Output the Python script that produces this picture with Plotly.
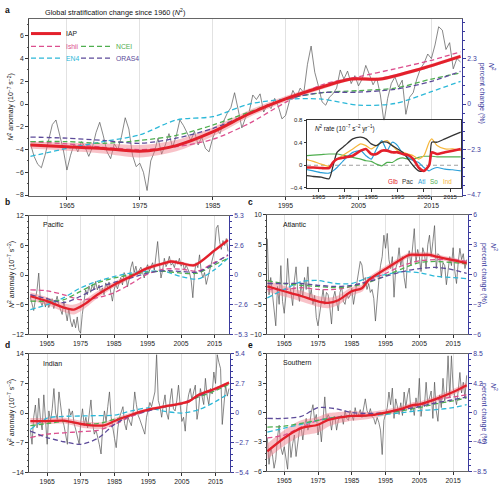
import plotly.graph_objects as go

# ---------------- categories / ticks ----------------
HALF_YEARS = [1960 + 0.5 * i for i in range(119)]
YR5 = [1960, 1965, 1970, 1975, 1980, 1985, 1990, 1995, 2000, 2005, 2010, 2015, 2019]
XTICKS = [1965, 1975, 1985, 1995, 2005, 2015]

# ---------------- panel a: global ----------------
glb_raw = [
    -3.5, -4.6, -5.3, -5.6, -4.5, -3.0, -1.8, -1.4, -2.6, -4.0, -5.8, -4.5, -3.5, -4.2, -3.3, -3.8, -4.6, -3.8, -2.5, -1.6,
    -2.8, -4.2, -4.8, -3.5, -4.0, -2.8, -1.2, -2.2, -4.5, -5.5, -5.2, -6.0, -7.6, -5.0, -4.2, -3.0, -4.4, -3.6, -2.6, -3.8,
    -2.8, -1.4, -1.9, -2.6, -3.2, -2.4, -3.6, -2.9, -3.9, -4.2, -3.0, -2.2, -2.6, -1.5, -0.8, -0.3, 1.0, -0.5, -2.1, -1.2,
    -0.7, 0.8, 0.4, 0.9, -0.7, 0.0, -0.4, 0.5, -0.2, -1.3, -1.0, 0.2, 1.2, 0.6, 1.4, 1.0, 3.5, 5.1, 2.8, 1.6,
    0.2, -0.1, 0.6, 0.9, 1.4, 3.0, 2.2, 2.9, 1.8, 2.5, 1.6, 2.2, 3.4, 2.6, 1.7, 2.3, 0.8, -1.6, 0.5, 1.8,
    2.4, 1.5, 2.1, -0.9, 0.6, 1.0, 2.2, 3.1, 3.6, 4.4, 4.0, 5.2, 6.8, 6.5, 4.8, 5.4, 3.1, 4.0, 3.7]
glb_iap_years = [1960, 1965, 1970, 1975, 1980, 1985, 1990, 1995, 2000, 2004, 2008, 2013, 2019]
glb_iap = [-3.6, -3.75, -3.9, -4.15, -3.65, -2.45, -0.85, 0.45, 1.5, 2.2, 2.2, 3.0, 4.2]
glb_unc = [0.3, 0.35, 0.45, 0.55, 0.5, 0.4, 0.3, 0.25, 0.2, 0.15, 0.15, 0.15, 0.15]
glb_ishii = [-3.3, -3.5, -3.8, -4.0, -3.75, -3.1, -1.7, 0.15, 1.7, 2.4, 3.1, 3.85, 4.6]
glb_en4 = [-4.6, -3.9, -3.3, -2.7, -1.4, -1.1, 0.0, 0.43, 0.43, -0.1, 0.05, 1.1, 2.0]
glb_ncei = [-3.3, -3.3, -3.45, -3.2, -2.75, -1.85, -0.7, 0.43, 1.0, 1.18, 1.4, 2.2, 2.74]
glb_oras4 = [-2.9, -3.0, -3.2, -3.45, -3.0, -2.15, -0.85, 0.43, 1.0, 1.05, 1.3, 2.0, 2.88]

# ---------------- panel b: Pacific ----------------
pac_raw = [
    -4.5, -6.0, -7.2, -5.0, -3.0, 0.4, -5.3, -6.2, -5.0, -6.5, -4.6, -6.6, -5.5, -4.8, -6.8, -5.2, -4.3, -6.0, -7.0, -8.0,
    -5.3, -7.5, -9.3, -6.8, -9.3, -10.5, -9.0, -10.7, -8.5, -11.2, -11.8, -8.0, -5.5, -3.0, -4.0, -2.2, -3.5, -1.9, -3.0, -1.3,
    -3.0, -2.0, -3.8, -2.6, -4.0, -1.6, -2.5, -1.4, -3.5, -5.3, -3.0, -1.8, -2.8, -1.5, -0.5, -2.0, 0.5, -0.2, -2.4, -0.8,
    1.5, 2.7, 0.5, 1.8, 0.1, 1.0, 1.6, 0.5, -0.6, 1.2, 2.1, 0.8, 1.5, 2.5, 1.0, 4.4, 6.8, 2.5, -0.6, 1.0,
    3.4, 1.7, 2.5, 3.8, 2.0, 2.4, 1.5, 3.0, 2.2, 3.4, 1.8, 2.6, 1.0, 2.0, 1.2, 0.5, -1.0, -4.6, 0.5, 2.5,
    1.5, 4.1, 0.8, -0.6, 0.5, -1.9, -0.5, 1.0, 2.5, 3.8, 5.0, 9.5, 10.1, 6.8, 5.2, 7.0, 6.0, 7.4, 4.8]
pac_iap_years = [1960, 1965, 1970, 1973, 1976, 1980, 1985, 1990, 1995, 2000, 2002, 2005, 2009, 2015, 2019]
pac_iap = [-4.3, -5.3, -6.6, -7.0, -6.0, -4.0, -1.95, -0.27, 1.4, 2.4, 2.75, 2.4, 2.0, 5.0, 7.1]
pac_unc = [0.8, 0.8, 0.9, 1.0, 0.9, 0.7, 0.6, 0.5, 0.4, 0.35, 0.35, 0.35, 0.35, 0.35, 0.35]
pac_ishii = [-3.0, -3.2, -4.0, -5.0, -4.6, -3.6, -1.8, 0.2, 1.2, 1.2, 0.8, 2.6, 4.0]
pac_en4 = [-7.0, -6.0, -4.6, -2.6, -1.3, -0.3, 0.4, 0.74, 0.74, -0.3, -0.8, 1.1, 3.4]
pac_ncei = [-5.3, -5.3, -5.0, -3.3, -1.6, -0.6, 0.07, 0.6, 0.74, 0.4, 0.4, 2.1, 3.4]
pac_oras4 = [-4.0, -4.8, -5.6, -4.3, -2.6, -1.5, -0.6, 0.4, 0.9, 0.74, 0.6, 2.4, 4.1]

# ---------------- panel c: Atlantic ----------------
atl_raw = [
    6.0, -3.4, -0.5, -3.0, -6.1, -8.6, -2.0, -5.0, 1.5, -4.5, -6.5, -3.5, 2.7, -1.5, -3.0, -5.2, -1.0, 1.3, -2.8, -4.5,
    -1.5, -3.8, -0.5, -2.5, 1.3, -4.0, -2.5, -5.0, -3.5, -7.2, -8.6, -6.0, -4.5, -2.5, -5.0, -3.0, -3.4, -5.5, -8.3, -4.0,
    -2.8, -4.5, -6.1, -3.0, -2.0, -4.5, -5.0, -3.2, -4.0, -3.5, -2.3, -5.0, -3.0, -1.0, 1.0, 2.2, 1.6, -1.0, -0.5, -2.5,
    -1.5, -3.0, -2.5, -4.0, -7.8, -3.5, -1.0, 1.5, 3.0, 6.6, 4.4, 6.9, 2.5, 1.0, 3.0, -3.8, 1.0, 2.0, 4.5, 1.5,
    3.0, -0.5, -2.3, 2.5, 4.0, 1.5, 5.0, 7.7, 2.0, 4.2, 3.0, 0.5, 4.5, 3.5, 1.0, 5.0, 6.6, 3.0, 5.5, 8.2,
    1.0, 3.5, 3.2, -0.5, 2.0, 1.5, -1.7, 0.5, 3.0, 1.5, 4.5, 0.5, -1.5, 2.0, 4.4, 2.5, 3.5, 1.0, 2.5]
atl_iap_years = [1960, 1965, 1970, 1975, 1978, 1981, 1985, 1988, 1990, 1995, 2000, 2002, 2005, 2008, 2010, 2015, 2019]
atl_iap = [-2.0, -2.8, -3.6, -4.5, -4.75, -4.3, -2.8, -2.3, -0.9, 0.94, 2.7, 3.3, 3.3, 3.3, 3.0, 2.4, 1.9]
atl_unc = [0.9, 0.9, 0.9, 0.9, 0.9, 0.8, 0.7, 0.6, 0.5, 0.5, 0.45, 0.4, 0.4, 0.4, 0.4, 0.4, 0.4]
atl_ishii = [-2.5, -2.5, -2.2, -2.5, -2.5, -2.0, -1.0, 0.2, 1.5, 2.3, 2.5, 2.5, 2.2]
atl_en4 = [-3.9, -2.5, -1.2, -1.0, -1.5, -1.5, -0.5, 0.0, 0.5, 0.3, -0.3, -0.5, -0.7]
atl_ncei = [-1.0, -1.5, -1.8, -2.0, -2.2, -2.0, -1.3, -0.2, 1.0, 2.0, 2.2, 2.0, 1.8]
atl_oras4 = [-1.5, -1.5, -1.5, -1.8, -2.0, -1.8, -1.2, -0.3, 0.5, 1.0, 1.2, 0.8, 0.2]

# ---------------- panel d: Indian ----------------
ind_raw = [
    -4.0, -7.4, -1.0, 1.9, -3.5, 3.5, -1.5, -4.0, 4.3, -2.5, -7.4, 0.5, -2.0, 1.0, 5.8, 0.0, -1.5, 5.0, 2.0, -1.5,
    -3.0, -5.8, -7.4, 1.0, -0.5, 0.5, -2.5, -4.0, -5.5, -7.4, -2.0, 1.0, -3.0, -1.0, -3.5, -0.5, 3.1, -2.5, -5.0, -4.0,
    -5.5, -7.5, -9.7, -3.0, 0.5, -2.0, 1.5, 5.0, -1.0, -4.0, -6.0, -8.2, -3.5, -1.0, 0.5, 1.5, -2.5, -4.0, -1.0, -2.0,
    -3.0, 0.0, 5.0, 2.0, -0.5, -1.5, -2.8, -3.5, -5.0, -1.0, 0.5, 2.5, 1.5, 3.0, 5.0, 13.8, 3.0, 1.5, -1.0, 2.0,
    4.3, 0.0, -1.5, 3.0, 5.8, 1.0, 0.5, 3.0, 6.6, 2.0, -2.0, -1.0, -4.3, 1.5, 4.3, 5.8, 3.0, 5.0, 6.6, -1.5,
    1.0, 5.8, 3.5, 2.0, 8.2, 4.0, 2.0, 5.8, 4.5, 9.7, 7.0, 13.8, 12.0, 10.5, -2.7, 3.0, 6.6, 4.0, 5.8]
ind_iap_years = [1960, 1965, 1970, 1975, 1978, 1982, 1985, 1990, 1995, 2000, 2005, 2007, 2010, 2015, 2019]
ind_iap = [-1.9, -1.9, -1.8, -2.6, -2.9, -2.9, -1.9, -0.4, 0.8, 1.55, 2.3, 2.7, 4.3, 5.8, 7.2]
ind_unc = [0.7, 0.7, 0.7, 0.8, 0.8, 0.8, 0.7, 0.5, 0.4, 0.35, 0.35, 0.35, 0.35, 0.35, 0.35]
ind_ishii = [-5.8, -5.0, -4.7, -4.4, -4.1, -2.7, -0.8, 0.5, 1.5, 2.3, 4.0, 5.5, 7.0]
ind_en4 = [-3.9, -1.2, -0.8, -0.7, -0.6, -0.5, 0.5, 1.2, 0.4, 0.0, 0.8, 2.7, 4.7]
ind_ncei = [-3.0, -2.5, -2.0, -2.5, -2.5, -1.5, -0.5, 0.8, 1.5, 2.2, 3.8, 5.3, 6.8]
ind_oras4 = [-4.3, -5.8, -6.8, -7.4, -6.0, -2.7, -0.5, 0.5, 1.5, 2.2, 4.0, 5.8, 7.2]

# ---------------- panel e: Southern ----------------
so_raw = [
    -2.6, -5.3, -3.6, -4.3, -5.7, -4.8, -2.5, -1.3, -3.6, -4.3, -3.5, -4.8, -5.8, -2.3, -4.6, -3.2, -2.3, -4.5, -2.8, -1.8,
    -1.5, -2.8, -1.3, -0.6, -1.8, -1.3, 0.0, 0.8, -0.8, -0.2, -2.3, -1.2, -3.0, -0.5, 1.6, -0.8, -0.2, -0.6, -1.8, -0.5,
    -0.4, -1.8, -0.8, -0.4, -0.3, -1.2, 0.2, -0.6, -0.8, 0.2, -0.4, -0.8, 0.5, -0.4, -0.2, 0.3, -0.5, 0.6, 1.4, 0.2,
    -0.2, 0.4, -0.4, -0.6, -1.2, -0.5, -1.0, -1.8, -4.3, -0.8, -0.2, 0.5, 2.1, 0.8, 2.5, -0.6, 1.4, 0.5, -0.2, 1.0,
    -0.3, 2.1, 0.5, 1.8, 2.5, 0.2, 0.8, -0.3, 1.5, 0.5, 3.5, -0.4, 1.0, 0.6, 3.1, 0.8, 1.5, 2.2, -0.6, 3.1,
    0.2, -0.9, 1.8, 0.5, 3.5, 1.2, 2.0, 5.8, 1.5, 5.8, 2.5, 1.5, 0.8, 2.2, 4.1, 2.0, 3.1, 1.5, 3.8]
so_iap_years = [1960, 1965, 1970, 1975, 1978, 1980, 1985, 1990, 1995, 2000, 2003, 2005, 2010, 2015, 2019]
so_iap = [-3.97, -2.6, -1.6, -1.25, -0.75, -0.6, -0.35, -0.3, 0.0, 0.4, 0.76, 0.83, 1.4, 2.1, 2.8]
so_unc = [0.8, 0.8, 0.8, 0.8, 0.7, 0.6, 0.5, 0.35, 0.3, 0.3, 0.3, 0.3, 0.3, 0.3, 0.3]
so_ishii = [-2.6, -2.3, -1.5, -0.8, -0.5, -0.35, -0.2, 0.0, 0.4, 0.8, 1.3, 1.6, 1.8]
so_en4 = [-2.0, -1.6, -1.2, -0.8, -0.5, -0.35, -0.3, -0.2, 0.0, 0.2, 0.3, 0.5, 0.8]
so_ncei = [-1.5, -1.4, -1.1, -0.8, -0.5, -0.4, -0.3, -0.1, 0.2, 0.5, 0.9, 1.2, 1.5]
so_oras4 = [-0.6, -0.6, -0.4, 0.5, 0.4, 0.0, -0.1, 0.0, 0.3, 0.6, 1.0, 1.3, 1.6]

# ---------------- inset: N2 rate ----------------
rate_years = [1960, 1963, 1966, 1969, 1970.5, 1972, 1975, 1978, 1981, 1983, 1985, 1987, 1989, 1991,
              1993, 1995, 1997, 1999, 2001, 2003, 2005, 2007, 2008, 2010, 2013, 2016, 2019]
rate_glb = [-0.04, -0.04, -0.05, -0.05, 0.05, 0.11, 0.14, 0.17, 0.26, 0.29, 0.2, 0.2, 0.26, 0.26,
            0.23, 0.23, 0.2, 0.18, 0.11, -0.04, -0.1, 0.0, 0.23, 0.2, 0.23, 0.26, 0.29]
rate_pac = [-0.18, -0.2, -0.21, -0.24, -0.01, 0.23, 0.35, 0.47, 0.5, 0.47, 0.38, 0.35, 0.41, 0.41,
            0.35, 0.29, 0.23, 0.11, -0.01, -0.1, -0.1, -0.01, 0.41, 0.41, 0.47, 0.53, 0.59]
rate_atl = [-0.07, -0.1, -0.13, -0.14, -0.1, -0.04, 0.11, 0.23, 0.26, 0.17, 0.11, 0.29, 0.44, 0.26,
            0.41, 0.35, 0.2, 0.14, 0.08, 0.05, -0.04, -0.1, -0.07, -0.04, -0.07, -0.08, -0.1]
rate_so = [0.17, 0.18, 0.19, 0.2, 0.2, 0.2, 0.17, 0.14, 0.11, 0.08, 0.07, 0.02, -0.01, 0.05,
           0.05, 0.11, 0.13, 0.11, 0.11, 0.14, 0.16, 0.16, 0.16, 0.15, 0.15, 0.15, 0.15]
rate_ind = [0.11, 0.07, 0.02, -0.02, 0.05, 0.11, 0.2, 0.29, 0.38, 0.35, 0.29, 0.35, 0.41, 0.44,
            0.35, 0.26, 0.23, 0.2, 0.17, 0.11, 0.17, 0.41, 0.47, 0.35, 0.29, 0.29, 0.26]

# ---------------- axis tick labels ----------------
a_lticks = [-8, -6, -4, -2, 0, 2, 4, 6]
a_rticks, a_rtext = [-8, -4, 0, 4], ["−4.7", "−2.3", "0", "2.3"]
b_lticks = [-12, -6, 0, 6, 12]; b_rtext = ["−5.3", "−2.6", "0", "2.6", "5.3"]
c_lticks = [-10, -5, 0, 5, 10]; c_rtext = ["−6", "−3", "0", "3", "6"]
d_lticks = [-14, -7, 0, 7, 14]; d_rtext = ["−5.4", "−2.7", "0", "2.7", "5.4"]
e_lticks = [-6, -3, 0, 3, 6]; e_rtext = ["−8.5", "−4.2", "0", "4.2", "8.5"]
rate_ticks = [-0.4, 0, 0.4, 0.8]
rate_ticktext = ["−0.4", "0", "0.4", "0.8"]

for arr in (glb_raw, pac_raw, atl_raw, ind_raw, so_raw):
    assert len(arr) == len(HALF_YEARS), len(arr)

# ---------------- styles ----------------
W, H = 500, 486
RED = "#e3202b"
BAND = "rgba(240,120,132,0.45)"
C_ISHII = "#dc4f8e"
C_EN4 = "#2cb8d8"
C_NCEI = "#4fae4f"
C_ORAS4 = "#5d4b9a"
GREY = "#555555"
BLUE = "#3a3a9c"
FONT = "Liberation Sans, Arial, sans-serif"
TICK_FS = 6.8


def px(x):
    return x / W


def py(y):
    return 1 - y / H


fig = go.Figure()

panels = [
    ("x", "y", "y7", glb_raw, glb_iap_years, glb_iap, glb_unc, glb_ishii, glb_en4, glb_ncei, glb_oras4, 3.0),
    ("x2", "y2", "y8", pac_raw, pac_iap_years, pac_iap, pac_unc, pac_ishii, pac_en4, pac_ncei, pac_oras4, 2.3),
    ("x3", "y3", "y9", atl_raw, atl_iap_years, atl_iap, atl_unc, atl_ishii, atl_en4, atl_ncei, atl_oras4, 2.3),
    ("x4", "y4", "y10", ind_raw, ind_iap_years, ind_iap, ind_unc, ind_ishii, ind_en4, ind_ncei, ind_oras4, 2.3),
    ("x5", "y5", "y11", so_raw, so_iap_years, so_iap, so_unc, so_ishii, so_en4, so_ncei, so_oras4, 2.3),
]

for k, (xa, ya, yr, raw, ix, iap, unc, ish, en4, ncei, oras, rw) in enumerate(panels):
    first = k == 0
    fig.add_trace(go.Scatter(x=HALF_YEARS, y=raw, xaxis=xa, yaxis=ya, mode="lines",
                             line=dict(color=GREY, width=0.7), showlegend=False, hoverinfo="skip"))
    lo = [v - u for v, u in zip(iap, unc)]
    hi = [v + u for v, u in zip(iap, unc)]
    fig.add_trace(go.Scatter(x=ix, y=lo, xaxis=xa, yaxis=ya, mode="lines",
                             line=dict(width=0, shape="spline", smoothing=0.8), showlegend=False, hoverinfo="skip"))
    fig.add_trace(go.Scatter(x=ix, y=hi, xaxis=xa, yaxis=ya, mode="lines", fill="tonexty", fillcolor=BAND,
                             line=dict(width=0, shape="spline", smoothing=0.8), showlegend=False, hoverinfo="skip"))
    for name, vals, col, lg in [("Ishii", ish, C_ISHII, "legend2"), ("EN4", en4, C_EN4, "legend3"),
                                ("NCEI", ncei, C_NCEI, "legend4"), ("ORAS4", oras, C_ORAS4, "legend5")]:
        fig.add_trace(go.Scatter(x=YR5, y=vals, xaxis=xa, yaxis=ya, mode="lines", name=name,
                                 line=dict(color=col, width=1.3, dash="5px,3px", shape="spline", smoothing=0.8),
                                 showlegend=first, legend=lg, hoverinfo="skip"))
    fig.add_trace(go.Scatter(x=ix, y=iap, xaxis=xa, yaxis=yr, mode="lines", name="IAP",
                             line=dict(color=RED, width=rw, shape="spline", smoothing=0.8),
                             showlegend=first, legend="legend", hoverinfo="skip"))

# inset traces
for vals, col, w in [(rate_so, C_NCEI, 1.2), (rate_ind, "#f6b73c", 1.2), (rate_atl, "#2a9fd8", 1.2),
                     (rate_pac, "#333333", 1.3), (rate_glb, RED, 2.6)]:
    fig.add_trace(go.Scatter(x=rate_years, y=vals, xaxis="x6", yaxis="y6", mode="lines",
                             line=dict(color=col, width=w, shape="spline", smoothing=0.6),
                             showlegend=False, hoverinfo="skip"))

# ---------------- axes ----------------
A_X, A_Y = [px(29), px(462)], [py(195), py(15)]
B_X, B_Y = [px(29), px(229)], [py(335), py(215)]
C_X, C_Y = [px(267), px(468)], [py(335), py(214)]
D_X, D_Y = [px(29), px(230)], [py(475), py(355)]
E_X, E_Y = [px(267), px(468)], [py(474), py(355)]
IN_X, IN_Y = [px(307), px(461)], [py(187), py(118)]
A_XR = [1959.8, 2019.2]
BX_R = [1959.6, 2019.3]
CX_R = [1959.9, 2019.4]
IN_XR = [1960.6, 2019.1]
IN_YR = [-0.41, 0.8]


def x_axis(domain, anchor, rng):
    return dict(domain=domain, anchor=anchor, range=rng, tickmode="array", tickvals=XTICKS,
                ticks="outside", ticklen=3, tickwidth=0.8, tickcolor="#333",
                showgrid=True, gridcolor="#e2e2e2", gridwidth=0.8,
                showline=True, linecolor="#666", linewidth=0.8, mirror=True, zeroline=False,
                tickfont=dict(size=TICK_FS, color="#222"))


def y_left(domain, anchor, rng, tickvals, mdt):
    return dict(domain=domain, anchor=anchor, range=rng, tickmode="array", tickvals=tickvals,
                ticks="outside", ticklen=3, tickwidth=0.8, tickcolor="#333",
                showgrid=False, zeroline=False, showline=True, linecolor="#444", linewidth=0.8,
                tickfont=dict(size=TICK_FS, color="#222"),
                minor=dict(ticks="outside", ticklen=1.6, tickcolor="#555", tickmode="linear",
                           tick0=0, dtick=mdt, showgrid=False))


def y_right(overlay, anchor, rng, tickvals, ticktext, mdt):
    return dict(overlaying=overlay, side="right", anchor=anchor, range=rng, tickmode="array",
                tickvals=tickvals, ticktext=ticktext, ticks="outside", ticklen=3, tickwidth=0.8,
                tickcolor=BLUE, showgrid=False, zeroline=False, showline=True, linecolor=BLUE,
                linewidth=0.8, tickfont=dict(size=TICK_FS, color=BLUE),
                minor=dict(ticks="outside", ticklen=1.6, tickcolor=BLUE, tickmode="linear",
                           tick0=0, dtick=mdt, showgrid=False))


A_YR = [-8.1, 7.5]
layout_axes = dict(
    xaxis=x_axis(A_X, "y", A_XR),
    yaxis=y_left(A_Y, "x", A_YR, a_lticks, 1),
    yaxis7=y_right("y", "x", A_YR, a_rticks, a_rtext, 0.8),
    xaxis2=x_axis(B_X, "y2", BX_R),
    yaxis2=y_left(B_Y, "x2", [-12, 12], b_lticks, 1.2),
    yaxis8=y_right("y2", "x2", [-12, 12], b_lticks, b_rtext, 1.2),
    xaxis3=x_axis(C_X, "y3", CX_R),
    yaxis3=y_left(C_Y, "x3", [-10, 10], c_lticks, 1),
    yaxis9=y_right("y3", "x3", [-10, 10], c_lticks, c_rtext, 1.0),
    xaxis4=x_axis(D_X, "y4", BX_R),
    yaxis4=y_left(D_Y, "x4", [-14, 14], d_lticks, 1.4),
    yaxis10=y_right("y4", "x4", [-14, 14], d_lticks, d_rtext, 1.4),
    xaxis5=x_axis(E_X, "y5", CX_R),
    yaxis5=y_left(E_Y, "x5", [-6, 6], e_lticks, 0.6),
    yaxis11=y_right("y5", "x5", [-6, 6], e_lticks, e_rtext, 0.6),
    xaxis6=dict(domain=IN_X, anchor="y6", range=IN_XR, tickmode="array", tickvals=XTICKS,
                ticks="outside", ticklen=2.5, tickcolor="#333", showgrid=False, zeroline=False,
                showline=True, linecolor="#333", linewidth=0.8, mirror=True,
                tickfont=dict(size=6, color="#222")),
    yaxis6=dict(domain=IN_Y, anchor="x6", range=IN_YR, tickmode="array", tickvals=rate_ticks,
                ticktext=rate_ticktext,
                ticks="outside", ticklen=2.5, tickcolor="#333", showgrid=False, zeroline=False,
                showline=True, linecolor="#333", linewidth=0.8, mirror=True,
                tickfont=dict(size=6, color="#222")),
)


# ---------------- legends ----------------
def leg(x, y, color):
    return dict(x=px(x), y=py(y), xanchor="left", yanchor="middle", bgcolor="rgba(0,0,0,0)",
                borderwidth=0, itemwidth=30, font=dict(size=6.8, color=color, family=FONT),
                tracegroupgap=0)


legends = dict(legend=leg(26, 30, "#222"), legend2=leg(26, 43, C_ISHII), legend3=leg(26, 55, C_EN4),
               legend4=leg(76, 43, C_NCEI), legend5=leg(76, 55, C_ORAS4))

# ---------------- annotations ----------------
N2 = "<i>N</i><sup>2</sup>"
left_title = N2 + " anomaly (10<sup>−7</sup> s<sup>−2</sup>)"
right_title = N2 + "<br>percent change (%)"
ann = []


def text(x, y, s, size=7, color="#111", xanchor="left", yanchor="middle", angle=0, align="left"):
    ann.append(dict(x=px(x), y=py(y), xref="paper", yref="paper", text=s, showarrow=False,
                    font=dict(size=size, color=color, family=FONT), xanchor=xanchor,
                    yanchor=yanchor, textangle=angle, align=align))


text(3, 6, "<b>a</b>", 8.5)
text(3, 201, "<b>b</b>", 8.5)
text(246, 201, "<b>c</b>", 8.5)
text(3, 346, "<b>d</b>", 8.5)
text(246, 346, "<b>e</b>", 8.5)
text(43, 8, "Global stratification change since 1960 (" + N2 + ")", 7.3)
text(41, 224, "Pacific", 7)
text(281, 224, "Atlantic", 7)
text(41, 365, "Indian", 7)
text(281, 364, "Southern", 7)
text(11, 105, left_title, 7, xanchor="center", angle=-90)
text(11, 275, left_title, 7, xanchor="center", angle=-90)
text(11, 415, left_title, 7, xanchor="center", angle=-90)
text(487, 90, right_title, 7, BLUE, xanchor="center", angle=90)
text(489, 273, right_title, 7, BLUE, xanchor="center", angle=90)
text(489, 415, right_title, 7, BLUE, xanchor="center", angle=90)
text(313, 126, N2 + " rate (10<sup>−7</sup> s<sup>−2</sup> yr<sup>−1</sup>)", 6.3)
for lbl, xx, col in [("Glb", 386, RED), ("Pac", 400, "#333333"), ("Atl", 416, "#2a9fd8"),
                     ("So", 428, C_NCEI), ("Ind", 441, "#f6b73c")]:
    text(xx, 180, lbl, 6.3, col)

shapes = [
    dict(type="rect", xref="x6", yref="y6", x0=IN_XR[0], x1=IN_XR[1], y0=IN_YR[0], y1=IN_YR[1],
         fillcolor="white", line=dict(width=0), layer="below"),
    dict(type="line", xref="x6", yref="y6", x0=IN_XR[0], x1=IN_XR[1], y0=0, y1=0,
         line=dict(color="#888", width=0.8, dash="4px,3px"), layer="below"),
]

fig.update_layout(
    width=W, height=H, margin=dict(l=0, r=0, t=0, b=0),
    paper_bgcolor="white", plot_bgcolor="white",
    font=dict(family=FONT, size=7, color="#222"),
    annotations=ann, shapes=shapes, hovermode=False,
    **layout_axes, **legends,
)

fig.write_html("out.html", config={"displayModeBar": False},
               post_script="document.body.style.margin='0px';")
